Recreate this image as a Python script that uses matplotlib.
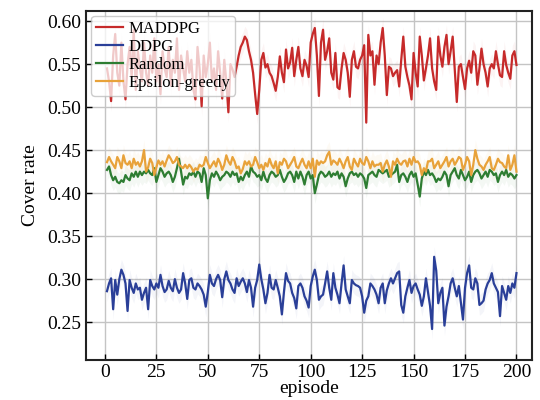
import numpy as np
import matplotlib
matplotlib.use("Agg")
import matplotlib.pyplot as plt

# reward curves, one value per episode (1..200)
episodes = list(range(1, 201))

maddpg = [
    0.545, 0.530, 0.507, 0.560, 0.585, 0.540, 0.525, 0.575, 0.530, 0.509,
    0.550, 0.570, 0.535, 0.590, 0.520, 0.565, 0.545, 0.530, 0.575, 0.540,
    0.525, 0.560, 0.540, 0.580, 0.530, 0.550, 0.515, 0.565, 0.545, 0.535,
    0.570, 0.525, 0.555, 0.540, 0.580, 0.520, 0.560, 0.545, 0.530, 0.565,
    0.540, 0.555, 0.520, 0.509, 0.570, 0.545, 0.501, 0.560, 0.535, 0.550,
    0.575, 0.530, 0.545, 0.520, 0.565, 0.540, 0.510, 0.555, 0.530, 0.494,
    0.550, 0.544, 0.535, 0.547, 0.560, 0.570, 0.575, 0.582, 0.578, 0.565,
    0.555, 0.540, 0.515, 0.492, 0.520, 0.555, 0.563, 0.546, 0.550, 0.540,
    0.536, 0.528, 0.519, 0.535, 0.559, 0.540, 0.529, 0.567, 0.545, 0.552,
    0.569, 0.536, 0.555, 0.570, 0.545, 0.536, 0.555, 0.548, 0.535, 0.575,
    0.585, 0.592, 0.560, 0.513, 0.575, 0.590, 0.555, 0.565, 0.580, 0.540,
    0.532, 0.563, 0.523, 0.521, 0.545, 0.563, 0.555, 0.540, 0.512, 0.555,
    0.565, 0.547, 0.545, 0.555, 0.560, 0.572, 0.482, 0.584, 0.560, 0.565,
    0.526, 0.560, 0.550, 0.575, 0.592, 0.560, 0.514, 0.547, 0.545, 0.536,
    0.540, 0.543, 0.524, 0.555, 0.582, 0.547, 0.535, 0.525, 0.509, 0.563,
    0.540, 0.524, 0.582, 0.560, 0.531, 0.545, 0.560, 0.580, 0.545, 0.530,
    0.520, 0.582, 0.560, 0.547, 0.570, 0.584, 0.550, 0.565, 0.582, 0.545,
    0.506, 0.547, 0.550, 0.535, 0.521, 0.545, 0.554, 0.540, 0.565, 0.560,
    0.526, 0.545, 0.568, 0.550, 0.540, 0.524, 0.545, 0.550, 0.545, 0.565,
    0.550, 0.537, 0.535, 0.565, 0.549, 0.540, 0.533, 0.560, 0.565, 0.549,
]

ddpg = [
    0.286, 0.295, 0.301, 0.265, 0.299, 0.282, 0.300, 0.311, 0.305, 0.295,
    0.263, 0.299, 0.290, 0.284, 0.295, 0.288, 0.290, 0.276, 0.284, 0.290,
    0.265, 0.299, 0.292, 0.288, 0.295, 0.290, 0.305, 0.292, 0.285, 0.288,
    0.298, 0.290, 0.286, 0.300, 0.290, 0.284, 0.288, 0.307, 0.295, 0.277,
    0.299, 0.301, 0.290, 0.288, 0.295, 0.292, 0.288, 0.282, 0.268, 0.285,
    0.305, 0.295, 0.292, 0.300, 0.305, 0.299, 0.279, 0.300, 0.309, 0.299,
    0.295, 0.288, 0.284, 0.301, 0.292, 0.297, 0.301, 0.295, 0.285, 0.299,
    0.290, 0.268, 0.290, 0.299, 0.317, 0.300, 0.288, 0.272, 0.284, 0.305,
    0.290, 0.288, 0.299, 0.290, 0.280, 0.259, 0.285, 0.307, 0.298, 0.295,
    0.284, 0.278, 0.266, 0.292, 0.295, 0.290, 0.280, 0.275, 0.267, 0.292,
    0.303, 0.311, 0.299, 0.276, 0.280, 0.282, 0.295, 0.309, 0.290, 0.276,
    0.307, 0.290, 0.282, 0.272, 0.295, 0.316, 0.288, 0.280, 0.272, 0.299,
    0.295, 0.293, 0.292, 0.290, 0.280, 0.261, 0.275, 0.280, 0.295, 0.292,
    0.288, 0.282, 0.272, 0.290, 0.295, 0.272, 0.287, 0.295, 0.301, 0.295,
    0.301, 0.307, 0.309, 0.270, 0.261, 0.280, 0.290, 0.299, 0.284, 0.292,
    0.295, 0.288, 0.282, 0.269, 0.280, 0.301, 0.285, 0.269, 0.242, 0.326,
    0.310, 0.272, 0.284, 0.290, 0.246, 0.268, 0.280, 0.295, 0.301, 0.290,
    0.280, 0.292, 0.272, 0.253, 0.290, 0.307, 0.316, 0.290, 0.288, 0.301,
    0.295, 0.270, 0.272, 0.275, 0.288, 0.295, 0.299, 0.307, 0.295, 0.290,
    0.285, 0.257, 0.292, 0.284, 0.276, 0.292, 0.284, 0.295, 0.290, 0.307,
]

random_policy = [
    0.427, 0.431, 0.421, 0.415, 0.419, 0.413, 0.4115, 0.415, 0.413, 0.421,
    0.417, 0.415, 0.423, 0.419, 0.425, 0.419, 0.425, 0.421, 0.425, 0.423,
    0.427, 0.423, 0.421, 0.429, 0.413, 0.421, 0.429, 0.425, 0.419, 0.423,
    0.425, 0.421, 0.413, 0.419, 0.429, 0.440, 0.425, 0.410, 0.419, 0.417,
    0.423, 0.421, 0.425, 0.419, 0.425, 0.423, 0.413, 0.429, 0.421, 0.394,
    0.415, 0.423, 0.419, 0.425, 0.421, 0.415, 0.419, 0.421, 0.425, 0.423,
    0.419, 0.425, 0.421, 0.423, 0.413, 0.419, 0.415, 0.421, 0.425, 0.419,
    0.431, 0.425, 0.423, 0.419, 0.421, 0.415, 0.425, 0.417, 0.413, 0.421,
    0.425, 0.423, 0.419, 0.421, 0.427, 0.419, 0.413, 0.417, 0.423, 0.425,
    0.421, 0.413, 0.425, 0.417, 0.425, 0.419, 0.410, 0.421, 0.425, 0.417,
    0.421, 0.400, 0.410, 0.421, 0.425, 0.423, 0.419, 0.421, 0.425, 0.419,
    0.423, 0.421, 0.425, 0.417, 0.423, 0.419, 0.408, 0.417, 0.423, 0.425,
    0.421, 0.423, 0.419, 0.423, 0.421, 0.417, 0.406, 0.421, 0.423, 0.425,
    0.421, 0.419, 0.427, 0.425, 0.423, 0.425, 0.427, 0.419, 0.421, 0.423,
    0.425, 0.433, 0.413, 0.421, 0.423, 0.419, 0.413, 0.421, 0.425, 0.419,
    0.423, 0.410, 0.396, 0.417, 0.425, 0.421, 0.427, 0.421, 0.423, 0.419,
    0.413, 0.417, 0.415, 0.419, 0.425, 0.421, 0.408, 0.421, 0.425, 0.429,
    0.421, 0.417, 0.427, 0.421, 0.415, 0.419, 0.425, 0.413, 0.421, 0.425,
    0.427, 0.423, 0.417, 0.421, 0.425, 0.419, 0.427, 0.425, 0.421, 0.423,
    0.413, 0.421, 0.425, 0.421, 0.427, 0.419, 0.423, 0.421, 0.417, 0.421,
]

eps_greedy = [
    0.436, 0.442, 0.437, 0.433, 0.429, 0.442, 0.437, 0.429, 0.444, 0.435,
    0.433, 0.437, 0.429, 0.440, 0.433, 0.436, 0.431, 0.437, 0.450, 0.425,
    0.430, 0.440, 0.435, 0.421, 0.430, 0.438, 0.433, 0.437, 0.431, 0.438,
    0.444, 0.440, 0.435, 0.437, 0.442, 0.433, 0.431, 0.429, 0.433, 0.429,
    0.433, 0.430, 0.425, 0.429, 0.427, 0.433, 0.431, 0.433, 0.442, 0.435,
    0.429, 0.433, 0.437, 0.431, 0.440, 0.435, 0.427, 0.433, 0.444, 0.437,
    0.433, 0.442, 0.437, 0.429, 0.431, 0.423, 0.428, 0.437, 0.433, 0.437,
    0.431, 0.433, 0.442, 0.436, 0.429, 0.433, 0.427, 0.435, 0.431, 0.440,
    0.433, 0.429, 0.437, 0.423, 0.436, 0.433, 0.440, 0.437, 0.429, 0.433,
    0.437, 0.442, 0.431, 0.429, 0.435, 0.440, 0.433, 0.429, 0.437, 0.429,
    0.440, 0.419, 0.438, 0.433, 0.437, 0.435, 0.437, 0.444, 0.448, 0.433,
    0.438, 0.436, 0.433, 0.440, 0.435, 0.429, 0.437, 0.442, 0.431, 0.427,
    0.440, 0.435, 0.431, 0.440, 0.435, 0.433, 0.442, 0.437, 0.429, 0.437,
    0.431, 0.433, 0.433, 0.435, 0.425, 0.433, 0.438, 0.431, 0.419, 0.437,
    0.433, 0.440, 0.435, 0.433, 0.437, 0.438, 0.431, 0.440, 0.433, 0.442,
    0.436, 0.437, 0.433, 0.421, 0.429, 0.425, 0.437, 0.437, 0.440, 0.429,
    0.433, 0.437, 0.429, 0.433, 0.437, 0.442, 0.431, 0.437, 0.440, 0.433,
    0.437, 0.442, 0.440, 0.427, 0.433, 0.442, 0.437, 0.421, 0.433, 0.450,
    0.440, 0.433, 0.431, 0.427, 0.433, 0.437, 0.442, 0.429, 0.427, 0.433,
    0.440, 0.436, 0.435, 0.431, 0.429, 0.444, 0.427, 0.433, 0.444, 0.425,
]

labels = ["MADDPG", "DDPG", "Random", "Epsilon-greedy"]
colors = ["#c62a2a", "#2a3f98", "#2e7d32", "#e8a23a"]
series = [maddpg, ddpg, random_policy, eps_greedy]

plt.rcParams["font.family"] = ["Liberation Serif", "DejaVu Serif"]

fig = plt.figure(figsize=(5.4, 4.0), dpi=100)
ax = fig.add_axes([0.160, 0.100, 0.825, 0.873])

x = np.array(episodes)
for vals, lab, col in zip(series, labels, colors):
    y = np.array(vals)
    ax.fill_between(x, y - 0.012, y + 0.012, color=col, alpha=0.05, linewidth=0)
    ax.plot(x, y, color=col, lw=1.6, label=lab)

ax.set_xlim(-9, 207.5)
ax.set_ylim(0.206, 0.612)
ax.set_xticks([0, 25, 50, 75, 100, 125, 150, 175, 200])
ax.set_yticks([0.25, 0.30, 0.35, 0.40, 0.45, 0.50, 0.55, 0.60])
ax.yaxis.set_major_formatter(matplotlib.ticker.FormatStrFormatter("%.2f"))
ax.grid(True, color="#c4c4c4", lw=1.0)
ax.set_axisbelow(True)
ax.tick_params(direction="in", labelsize=14, length=4, width=1, pad=4)
ax.tick_params(axis="x", pad=3)
for s in ax.spines.values():
    s.set_linewidth(1.5)
    s.set_color("#222222")

ax.set_xlabel("episode", fontsize=14, labelpad=-1)
ax.set_ylabel("Cover rate", fontsize=14, labelpad=6)

leg = ax.legend(loc="upper left", fontsize=12, handlelength=1.6,
                handletextpad=0.3, labelspacing=0.12, borderpad=0.3,
                borderaxespad=0.3, framealpha=0.75, fancybox=True)
leg.get_frame().set_edgecolor("#bbbbbb")

fig.savefig("out.png", dpi=100)
